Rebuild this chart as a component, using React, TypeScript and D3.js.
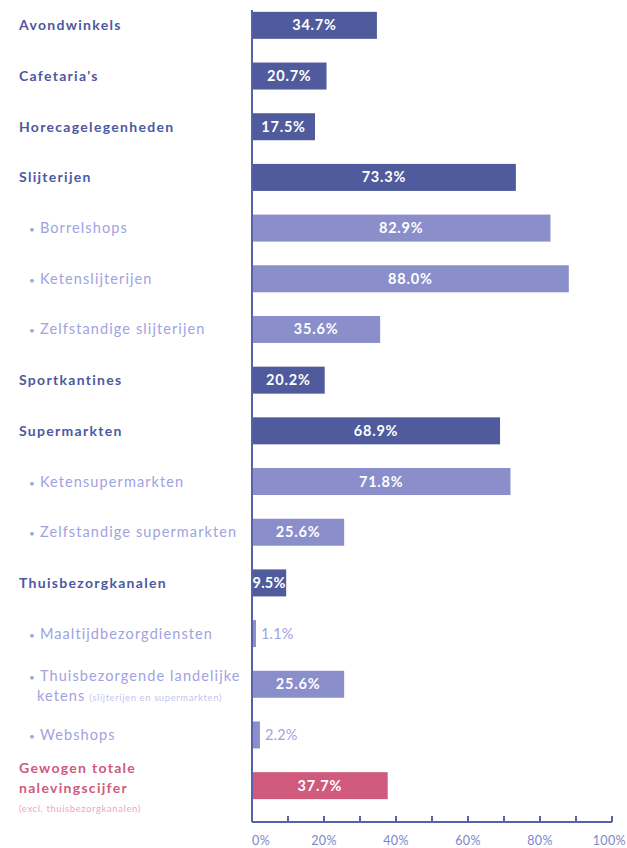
import React, { useEffect, useRef } from 'react';
import * as d3 from 'd3';

const categories = [
  'Avondwinkels',
  "Cafetaria's",
  'Horecagelegenheden',
  'Slijterijen',
  'Borrelshops',
  'Ketenslijterijen',
  'Zelfstandige slijterijen',
  'Sportkantines',
  'Supermarkten',
  'Ketensupermarkten',
  'Zelfstandige supermarkten',
  'Thuisbezorgkanalen',
  'Maaltijdbezorgdiensten',
  'Thuisbezorgende landelijke ketens',
  'Webshops',
  'Gewogen totale nalevingscijfer',
];
const values = [34.7, 20.7, 17.5, 73.3, 82.9, 88.0, 35.6, 20.2, 68.9, 71.8, 25.6, 9.5, 1.1, 25.6, 2.2, 37.7];
const kinds = ['main', 'main', 'main', 'main', 'sub', 'sub', 'sub', 'main', 'main', 'sub', 'sub', 'main', 'sub', 'sub', 'sub', 'total'];
const xTicks = [0, 10, 20, 30, 40, 50, 60, 70, 80, 90, 100];
const xTickLabels = ['0%', '20%', '40%', '60%', '80%', '100%'];

const W = 627;
const H = 848;
const FONT = 'Lato, "Open Sans", sans-serif';
const DARK = '#4f5b9c';
const LIGHT = '#8a8ecb';
const PINK = '#cf5a7d';
const MAIN_TXT = '#4d58a1';
const SUB_TXT = '#a0a2e2';

const App: React.FC = () => {
  const svgRef = useRef<SVGSVGElement>(null);

  useEffect(() => {
    if (!svgRef.current) return;
    const svg = d3.select(svgRef.current);
    svg.selectAll('*').remove();

    const x0 = 252;
    const x = d3.scaleLinear().domain([0, 100]).range([x0, 612]);
    const y = d3.scalePoint<string>().domain(categories).range([0, 811]).padding(0.5);
    const barH = 27;
    const axisY = 822;

    const fill = (k: string) => (k === 'main' ? DARK : k === 'sub' ? LIGHT : PINK);
    const rows = categories.map((c, i) => ({ c, v: values[i], k: kinds[i] }));

    // bars
    svg
      .append('g')
      .selectAll('rect')
      .data(rows)
      .enter()
      .append('rect')
      .attr('x', x(0))
      .attr('y', d => (y(d.c) as number) - barH / 2)
      .attr('width', d => x(d.v) - x(0))
      .attr('height', barH)
      .attr('fill', d => fill(d.k));

    // value labels
    svg
      .append('g')
      .selectAll('text')
      .data(rows)
      .enter()
      .append('text')
      .attr('x', d => (d.v < 5 ? x(d.v) + 5 : (x(0) + x(d.v)) / 2))
      .attr('y', d => (y(d.c) as number) + 5)
      .attr('text-anchor', d => (d.v < 5 ? 'start' : 'middle'))
      .style('font-family', FONT)
      .style('font-size', '14.5px')
      .style('font-weight', d => (d.v < 5 ? '400' : '700'))
      .style('letter-spacing', d => (d.v < 12 ? '0.2px' : '0.8px'))
      .style('fill', d => (d.v < 5 ? SUB_TXT : '#ffffff'))
      .text(d => `${d.v.toFixed(1)}%`);

    // category labels
    const lg = svg.append('g').style('font-family', FONT);
    const subLabel = (sel: any, text: string) => {
      sel.append('tspan').style('font-size', '10px').text('•');
      sel.append('tspan').attr('dx', 4).text(text);
    };
    rows.forEach(d => {
      const cy = y(d.c) as number;
      if (d.k === 'main') {
        lg.append('text')
          .attr('x', 19)
          .attr('y', cy + 5)
          .style('font-size', '14px')
          .style('font-weight', '700')
          .style('letter-spacing', '1.3px')
          .style('fill', MAIN_TXT)
          .text(d.c);
      } else if (d.k === 'sub') {
        const subText = (yy: number) =>
          lg.append('text')
            .attr('x', 29)
            .attr('y', yy)
            .style('font-size', '14.5px')
            .style('font-weight', '400')
            .style('letter-spacing', '1.1px')
            .style('fill', SUB_TXT);
        if (d.c === 'Thuisbezorgende landelijke ketens') {
          subLabel(subText(cy - 3), 'Thuisbezorgende landelijke');
          const t = subText(cy + 17).attr('x', 37);
          t.append('tspan').text('ketens');
          t.append('tspan')
            .style('font-size', '9.5px')
            .style('letter-spacing', '0.6px')
            .style('fill', '#c4c5ee')
            .attr('dx', 4)
            .text('(slijterijen en supermarkten)');
        } else {
          subLabel(subText(cy + 5), d.c);
        }
      } else {
        ['Gewogen totale', 'nalevingscijfer'].forEach((line, j) => {
          lg.append('text')
            .attr('x', 19)
            .attr('y', cy - 13 + j * 20)
            .style('font-size', '14px')
            .style('font-weight', '700')
            .style('letter-spacing', '1.3px')
            .style('fill', PINK)
            .text(line);
        });
        lg.append('text')
          .attr('x', 19)
          .attr('y', cy + 26)
          .style('font-size', '9.5px')
          .style('letter-spacing', '0.6px')
          .style('fill', '#eaa9c0')
          .text('(excl. thuisbezorgkanalen)');
      }
    });

    // axes
    const ag = svg.append('g').attr('stroke', '#5862a8').attr('stroke-width', 2).attr('fill', 'none');
    ag.append('line').attr('x1', x0).attr('x2', x0).attr('y1', 10).attr('y2', axisY);
    ag.append('line').attr('x1', x0).attr('x2', x(100)).attr('y1', axisY).attr('y2', axisY);
    ag.selectAll('line.tick')
      .data(xTicks.slice(1))
      .enter()
      .append('line')
      .attr('class', 'tick')
      .attr('x1', d => x(d))
      .attr('x2', d => x(d))
      .attr('y1', axisY - 6)
      .attr('y2', axisY);

    const n = xTickLabels.length;
    svg
      .append('g')
      .selectAll('text')
      .data(xTickLabels)
      .enter()
      .append('text')
      .attr('x', (d, i) => (i === 0 ? x(0) : i === n - 1 ? W - 1 : x(parseFloat(d))))
      .attr('y', 845)
      .attr('text-anchor', (d, i) => (i === 0 ? 'start' : i === n - 1 ? 'end' : 'middle'))
      .style('font-family', FONT)
      .style('font-size', '12.5px')
      .style('letter-spacing', '0.4px')
      .style('fill', '#7c86cc')
      .text(d => d);
  }, []);

  return <svg ref={svgRef} width={W} height={H} style={{ position: 'absolute', left: 0, top: 0 }} />;
};

export default App;
